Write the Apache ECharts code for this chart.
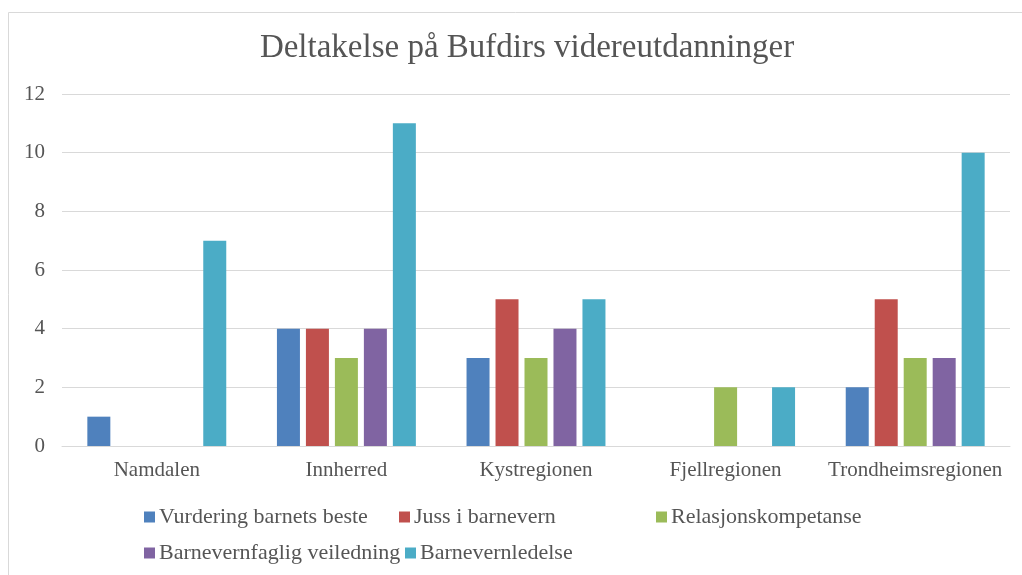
<!DOCTYPE html>
<html>
<head>
    <meta charset="utf-8">
    <title>Deltakelse på Bufdirs videreutdanninger</title>
    <script src="https://cdn.jsdelivr.net/npm/echarts@6/dist/echarts.min.js"></script>
</head>
<style>
    html, body { margin: 0; padding: 0; background: #fff; }
    #chartmain { width: 1022px; height: 575px; }
</style>
<body>
    <div id="chartmain"></div>
<script type="text/javascript">
    // data
    var regions = ['Namdalen', 'Innherred', 'Kystregionen', 'Fjellregionen', 'Trondheimsregionen'];
    var seriesNames = ['Vurdering barnets beste', 'Juss i barnevern', 'Relasjonskompetanse',
                       'Barnevernfaglig veiledning', 'Barnevernledelse'];
    var vurdering = [1, 4, 3, 0, 2];
    var juss = [0, 4, 5, 0, 5];
    var relasjon = [0, 3, 3, 2, 3];
    var veiledning = [0, 4, 4, 0, 3];
    var ledelse = [7, 11, 5, 2, 10];
    var colors = ['#4F81BD', '#C0504D', '#9BBB59', '#8064A2', '#4BACC6'];

    var allValues = [vurdering, juss, relasjon, veiledning, ledelse];
    var txt = '#555555';
    var font = 'Liberation Serif';

    // legend placement (two rows like the original)
    var legendPos = [[144, 506], [399, 506], [656, 506], [144, 542], [405, 542]];

    var legends = seriesNames.map(function (n, i) {
        return {
            data: [n],
            left: legendPos[i][0],
            top: legendPos[i][1],
            itemWidth: 11,
            itemHeight: 11,
            itemGap: 0,
            padding: 0,
            icon: 'rect',
            textStyle: { color: txt, fontFamily: font, fontSize: 22, padding: [0, 0, 0, -1] }
        };
    });

    var series = seriesNames.map(function (n, i) {
        return {
            name: n,
            type: 'bar',
            data: allValues[i],
            barWidth: 23,
            barGap: '26%',
            itemStyle: { color: colors[i] }
        };
    });

    var myChart = echarts.init(document.getElementById('chartmain'));
    myChart.setOption({
        animation: false,
        color: colors,
        title: {
            text: 'Deltakelse på Bufdirs videreutdanninger',
            left: 522,
            textAlign: 'center',
            top: 27,
            textStyle: { color: txt, fontFamily: font, fontSize: 33, fontWeight: 'normal' }
        },
        graphic: [{
            type: 'rect',
            shape: { x: 8.5, y: 12.5, width: 1030, height: 600 },
            style: { fill: 'none', stroke: '#d9d9d9', lineWidth: 1 },
            silent: true
        }],
        legend: legends,
        grid: { left: 62, right: 12, top: 94, bottom: 129 },
        xAxis: {
            type: 'category',
            data: regions,
            axisLine: { lineStyle: { color: '#d9d9d9' } },
            axisTick: { show: false },
            axisLabel: { color: txt, fontFamily: font, fontSize: 21, margin: 14, interval: 0 }
        },
        yAxis: {
            type: 'value',
            min: 0,
            max: 12,
            interval: 2,
            axisLine: { show: false },
            axisTick: { show: false },
            splitLine: { lineStyle: { color: '#d9d9d9' } },
            axisLabel: { color: txt, fontFamily: font, fontSize: 21, margin: 17 }
        },
        series: series
    });
</script>
</body>
</html>
